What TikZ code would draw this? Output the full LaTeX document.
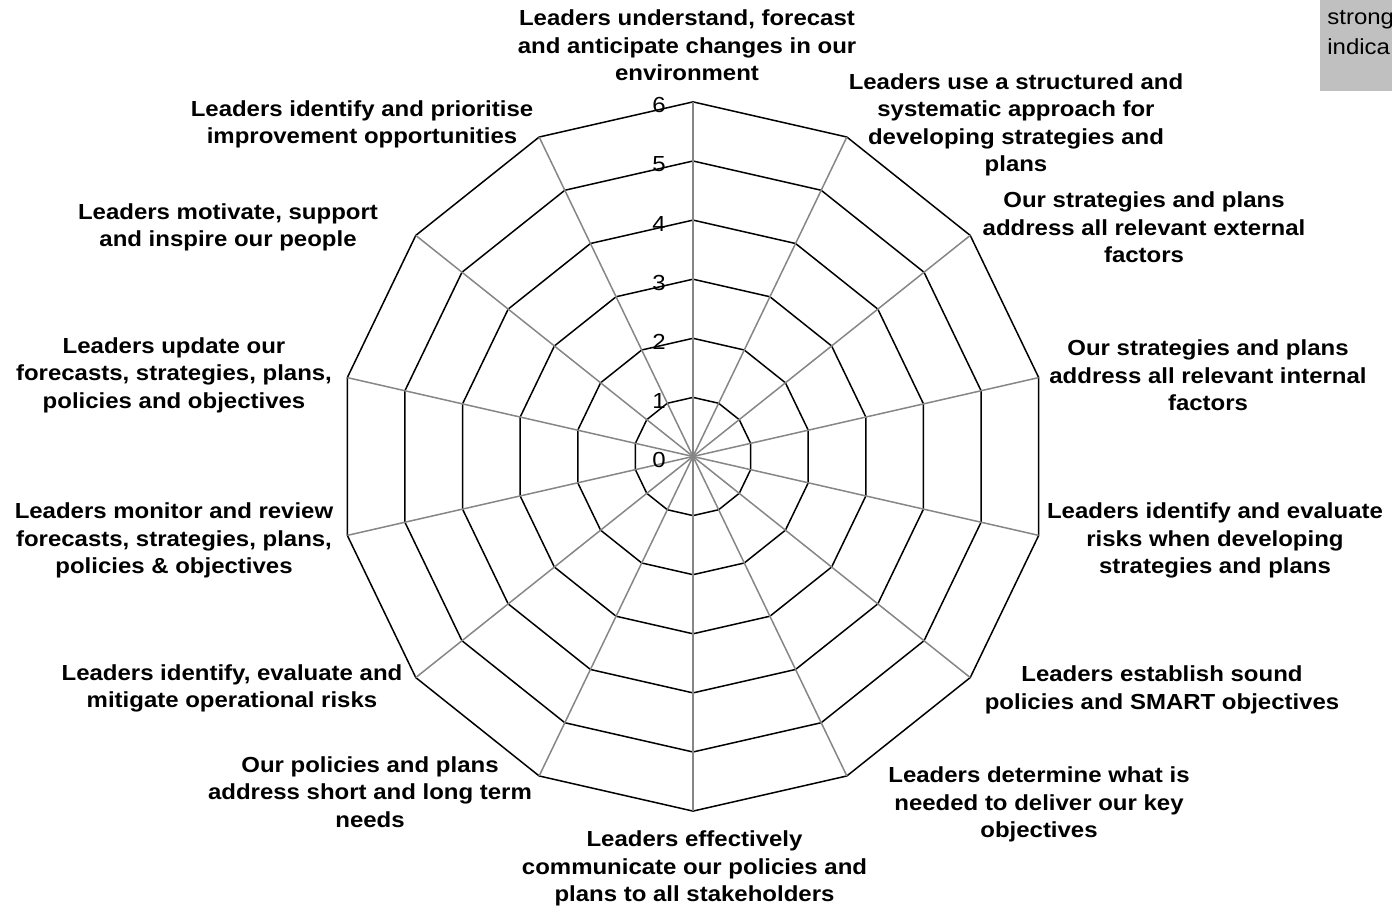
\documentclass[tikz,border=0pt]{standalone}
\usepackage{fontspec}
\setmainfont{Liberation Sans}[FakeStretch=1.10]
\usepackage{xcolor}
\usetikzlibrary{positioning}

\definecolor{spokegray}{RGB}{134,134,134}
\definecolor{boxgray}{RGB}{192,192,192}

\begin{document}
\begin{tikzpicture}[x=0.5pt, y=0.5pt,
    ring/.style={black, line width=0.75pt, line join=miter},
    spoke/.style={spokegray, line width=0.75pt},
    axislabel/.style={font=\fontsize{10.9pt}{13.75pt}\selectfont\bfseries, align=center, inner sep=0pt},
    ticklabel/.style={font=\fontsize{10.9pt}{13.75pt}\selectfont, inner sep=0pt}]
    \clip (0,0) rectangle (1392,910);

    % Legend box, cut by the border
    \fill[boxgray] (1320,819) rectangle (1400,910);
    \node[ticklabel, anchor=base west] (legend1) at (1327,885) {strong};
    \node[ticklabel, anchor=base west] (legend2) at (1327,855) {indica};

    \begin{scope}[shift={(693,453.5)}]
        % Rings (14-gons)
        \foreach \r in {1,...,6}
            \draw[ring] (90:\r*59.1) \foreach \i in {1,...,13} {-- (90-\i*360/14:\r*59.1)} -- cycle;

        % Spokes
        \foreach \i in {0,...,13}
            \draw[spoke] (0,0) -- (90-\i*360/14:354.6);

        % Scale values
        \foreach \k in {0,...,6}
            \node[ticklabel] (tick\k) at (-34,\k*59.1-3.5) {\k};
    \end{scope}

    % Axis labels, clockwise from the top
    \node[axislabel] (lab0) at (687,864.5) {Leaders understand, forecast\\and anticipate changes in our\\environment};
    \node[axislabel] (lab1) at (1016,785) {Leaders use a structured and\\systematic approach for\\developing strategies and\\plans};
    \node[axislabel] (lab2) at (1144,682.5) {Our strategies and plans\\address all relevant external\\factors};
    \node[axislabel] (lab3) at (1208,534.5) {Our strategies and plans\\address all relevant internal\\factors};
    \node[axislabel] (lab4) at (1215,369.5) {Leaders identify and evaluate\\risks when developing\\strategies and plans};
    \node[axislabel] (lab5) at (1162,220) {Leaders establish sound\\policies and SMART objectives};
    \node[axislabel] (lab6) at (1039,105.5) {Leaders determine what is\\needed to deliver our key\\objectives};
    \node[axislabel] (lab7) at (694.5,41.5) {Leaders effectively\\communicate our policies and\\plans to all stakeholders};
    \node[axislabel] (lab8) at (370,118) {Our policies and plans\\address short and long term\\needs};
    \node[axislabel] (lab9) at (232,221.5) {Leaders identify, evaluate and\\mitigate operational risks};
    \node[axislabel] (lab10) at (174,369.5) {Leaders monitor and review\\forecasts, strategies, plans,\\policies \& objectives};
    \node[axislabel] (lab11) at (174,535) {Leaders update our\\forecasts, strategies, plans,\\policies and objectives};
    \node[axislabel] (lab12) at (228,682.5) {Leaders motivate, support\\and inspire our people};
    \node[axislabel] (lab13) at (362,785.5) {Leaders identify and prioritise\\improvement opportunities};
\end{tikzpicture}
\end{document}
